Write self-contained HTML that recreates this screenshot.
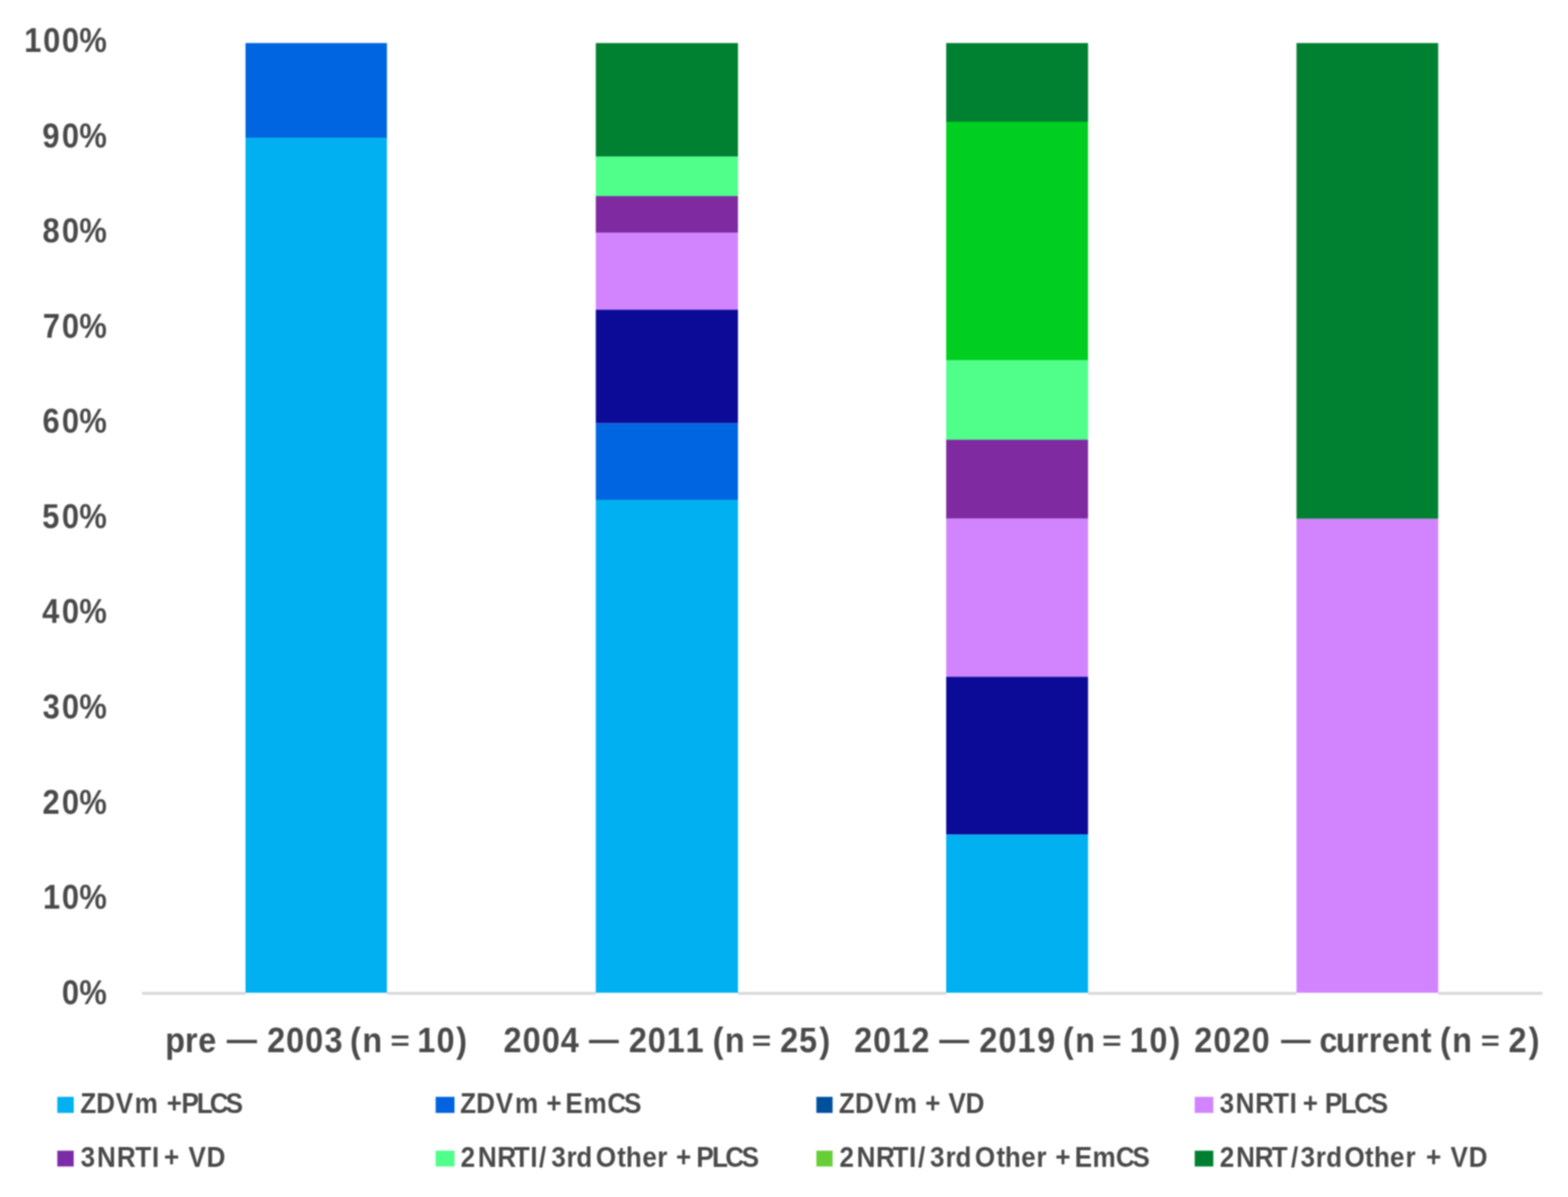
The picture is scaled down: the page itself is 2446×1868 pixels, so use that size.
<!DOCTYPE html>
<html lang="en">
<head>
<meta charset="utf-8">
<style>
html,body{margin:0;padding:0;background:#fff;}
body{width:2446px;height:1868px;overflow:hidden;}
svg{display:block;}
.sh{filter:blur(0.8px);}
.tx{filter:blur(1.25px);}
text{font-family:"Liberation Sans",sans-serif;font-weight:bold;fill:#4a4a4a;font-kerning:none;white-space:pre;}
.ax{font-size:55.2px;}
.lg{font-size:43.8px;}
.ay{font-size:53.6px;}
</style>
</head>
<body>
<svg width="2446" height="1868" viewBox="0 0 2446 1868">
<rect x="-10" y="-10" width="2466" height="1888" fill="#ffffff"/>
<g class="sh">
<rect x="221.5" y="1547.9" width="2184.5" height="4.6" fill="#D9D9D9"/>
<rect x="383.0" y="1549.2" width="220.6" height="5" fill="#ffffff"/>
<rect x="383.0" y="67.2" width="220.6" height="147.9" fill="#0065E0"/>
<rect x="383.0" y="215.1" width="220.6" height="1334.1" fill="#00B0F0"/>
<rect x="929.4" y="1549.2" width="221.8" height="5" fill="#ffffff"/>
<rect x="929.4" y="67.2" width="221.8" height="177.3" fill="#008031"/>
<rect x="929.4" y="244.5" width="221.8" height="61.5" fill="#4FFF8A"/>
<rect x="929.4" y="306.0" width="221.8" height="57.1" fill="#7F2AA0"/>
<rect x="929.4" y="363.1" width="221.8" height="120.2" fill="#D284FF"/>
<rect x="929.4" y="483.3" width="221.8" height="177.2" fill="#0B0B97"/>
<rect x="929.4" y="660.5" width="221.8" height="119.5" fill="#0065E0"/>
<rect x="929.4" y="780.0" width="221.8" height="769.2" fill="#00B0F0"/>
<rect x="1476.0" y="1549.2" width="221.3" height="5" fill="#ffffff"/>
<rect x="1476.0" y="67.2" width="221.3" height="122.8" fill="#008031"/>
<rect x="1476.0" y="190.0" width="221.3" height="372.4" fill="#00CF21"/>
<rect x="1476.0" y="562.4" width="221.3" height="123.8" fill="#4FFF8A"/>
<rect x="1476.0" y="686.2" width="221.3" height="123.3" fill="#7F2AA0"/>
<rect x="1476.0" y="809.5" width="221.3" height="246.7" fill="#D284FF"/>
<rect x="1476.0" y="1056.2" width="221.3" height="246.2" fill="#0B0B97"/>
<rect x="1476.0" y="1302.4" width="221.3" height="246.8" fill="#00B0F0"/>
<rect x="2022.5" y="1549.2" width="221.0" height="5" fill="#ffffff"/>
<rect x="2022.5" y="67.2" width="221.0" height="742.5" fill="#008031"/>
<rect x="2022.5" y="809.7" width="221.0" height="739.5" fill="#D284FF"/>
<rect x="89.4" y="1711.7" width="25.6" height="25.1" fill="#00B0F0"/>
<rect x="679.6" y="1711.7" width="29.4" height="25.1" fill="#0063E0"/>
<rect x="1273.5" y="1711.7" width="25.3" height="25.1" fill="#00509E"/>
<rect x="1863.7" y="1711.7" width="29.0" height="25.1" fill="#D284FF"/>
<rect x="89.4" y="1795.7" width="25.6" height="24.7" fill="#7B2CA6"/>
<rect x="679.6" y="1795.7" width="29.4" height="24.7" fill="#4FFF8A"/>
<rect x="1273.5" y="1795.7" width="25.3" height="24.7" fill="#68CE38"/>
<rect x="1863.7" y="1795.7" width="29.0" height="24.7" fill="#007F31"/>
</g>
<g class="tx">
<text class="ay" transform="scale(0.9000 1)" x="42.0 74.6 107.1 137.5" y="81.0">100%</text>
<text class="ay" transform="scale(0.9000 1)" x="73.4 107.1 137.5" y="229.6">90%</text>
<text class="ay" transform="scale(0.9000 1)" x="73.5 107.1 137.5" y="378.1">80%</text>
<text class="ay" transform="scale(0.9000 1)" x="74.3 107.1 137.5" y="526.7">70%</text>
<text class="ay" transform="scale(0.9000 1)" x="73.7 107.1 137.5" y="675.3">60%</text>
<text class="ay" transform="scale(0.9000 1)" x="73.2 107.1 137.5" y="823.8">50%</text>
<text class="ay" transform="scale(0.9000 1)" x="73.1 107.1 137.5" y="972.4">40%</text>
<text class="ay" transform="scale(0.9000 1)" x="73.8 107.1 137.5" y="1121.0">30%</text>
<text class="ay" transform="scale(0.9000 1)" x="73.6 107.1 137.5" y="1269.6">20%</text>
<text class="ay" transform="scale(0.9000 1)" x="74.5 107.1 137.5" y="1418.1">10%</text>
<text class="ay" transform="scale(0.9000 1)" x="107.1 137.5" y="1566.7">0%</text>
<text class="ax" transform="scale(0.9150 1)" x="281.6 315.4 338.0 338.0 386.6 386.6 455.5 487.8 520.2 553.2 553.2 596.8 617.8 617.8 665.6 665.6 711.6 744.3 777.8" y="1641.9 1641.9 1641.9 1641.9 1639.4 1641.9 1641.9 1641.9 1641.9 1641.9 1641.9 1641.9 1641.9 1641.9 1638.6 1641.9 1641.9 1641.9 1641.9">pre <tspan font-size="52.4" textLength="51.5" lengthAdjust="spacingAndGlyphs">—</tspan> 2003 (n <tspan font-size="42.0" textLength="33.1" lengthAdjust="spacingAndGlyphs">=</tspan> 10)</text>
<text class="ax" transform="scale(0.9150 1)" x="858.5 891.1 923.8 955.9 955.9 1004.2 1004.2 1072.1 1104.4 1136.6 1168.9 1168.9 1214.9 1235.9 1235.9 1281.8 1281.8 1330.1 1362.3 1397.0" y="1641.9 1641.9 1641.9 1641.9 1641.9 1639.4 1641.9 1641.9 1641.9 1641.9 1641.9 1641.9 1641.9 1641.9 1641.9 1638.6 1641.9 1641.9 1641.9 1641.9">2004 <tspan font-size="52.4" textLength="50.8" lengthAdjust="spacingAndGlyphs">—</tspan> 2011 (n <tspan font-size="42.0" textLength="33.1" lengthAdjust="spacingAndGlyphs">=</tspan> 25)</text>
<text class="ax" transform="scale(0.9150 1)" x="1456.2 1488.6 1521.1 1553.8 1553.8 1601.3 1601.3 1669.8 1702.2 1734.7 1768.3 1768.3 1812.0 1833.0 1833.0 1879.0 1879.0 1925.9 1959.6 1993.8" y="1641.9 1641.9 1641.9 1641.9 1641.9 1639.4 1641.9 1641.9 1641.9 1641.9 1641.9 1641.9 1641.9 1641.9 1641.9 1638.6 1641.9 1641.9 1641.9 1641.9">2012 <tspan font-size="52.4" textLength="50.8" lengthAdjust="spacingAndGlyphs">—</tspan> 2019 (n <tspan font-size="42.0" textLength="33.1" lengthAdjust="spacingAndGlyphs">=</tspan> 10)</text>
<text class="ax" transform="scale(0.9150 1)" x="2036.2 2068.7 2101.4 2133.9 2133.9 2184.2 2184.2 2249.4 2277.4 2311.4 2333.6 2356.0 2387.3 2422.2 2422.2 2455.0 2475.7 2475.7 2524.5 2524.5 2571.8 2606.4" y="1641.9 1641.9 1641.9 1641.9 1641.9 1639.4 1641.9 1641.9 1641.9 1641.9 1641.9 1641.9 1641.9 1641.9 1641.9 1641.9 1641.9 1641.9 1638.6 1641.9 1641.9 1641.9">2020 <tspan font-size="52.4" textLength="50.3" lengthAdjust="spacingAndGlyphs">—</tspan> current (n <tspan font-size="42.0" textLength="32.3" lengthAdjust="spacingAndGlyphs">=</tspan> 2)</text>
<text class="lg" transform="scale(0.9300 1)" x="134.6 161.3 194.0 225.8 225.8 279.7 304.4 330.1 351.8 378.6" y="1736.9">ZDVm +PLCS</text>
<text class="lg" transform="scale(0.9300 1)" x="771.7 798.6 831.5 863.6 863.6 916.4 916.4 948.5 978.9 1018.7 1046.9" y="1736.9">ZDVm + EmCS</text>
<text class="lg" transform="scale(0.9300 1)" x="1407.1 1434.1 1467.1 1499.3 1499.3 1551.9 1551.9 1590.8 1619.6" y="1736.9">ZDVm + VD</text>
<text class="lg" transform="scale(0.9300 1)" x="2045.6 2072.5 2105.3 2135.6 2163.2 2163.2 2185.2 2185.2 2222.2 2248.9 2271.6 2299.3" y="1736.9">3NRTI + PLCS</text>
<text class="lg" transform="scale(0.9300 1)" x="135.2 162.6 196.0 226.9 254.8 254.8 275.1 275.1 316.1 346.6" y="1820.7">3NRTI + VD</text>
<text class="lg" transform="scale(0.9300 1)" x="772.6 801.6 834.2 861.8 889.5 904.0 924.8 950.3 966.7 999.4 1035.3 1049.8 1077.3 1102.4 1102.4 1134.0 1134.0 1168.0 1194.3 1216.7 1244.1" y="1820.7">2NRTI/3rdOther + PLCS</text>
<text class="lg" transform="scale(0.9300 1)" x="1408.2 1436.9 1469.5 1497.0 1524.7 1539.7 1560.0 1586.0 1602.7 1635.1 1671.4 1685.5 1713.0 1738.5 1738.5 1770.2 1770.2 1802.8 1832.6 1871.8 1899.5" y="1820.7">2NRTI/3rdOther + EmCS</text>
<text class="lg" transform="scale(0.9300 1)" x="2045.9 2073.4 2104.7 2133.1 2165.4 2181.5 2207.1 2224.6 2255.0 2289.6 2304.6 2331.5 2357.5 2357.5 2392.0 2392.0 2433.1 2463.4" y="1820.7">2NRT/3rdOther + VD</text>
</g>
</svg>
</body>
</html>
